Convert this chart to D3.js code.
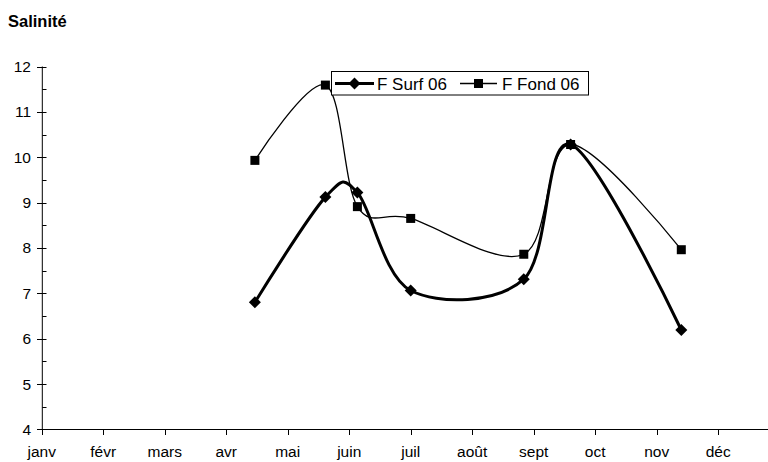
<!DOCTYPE html>
<html>
<head>
<meta charset="utf-8">
<script src="https://cdn.jsdelivr.net/npm/d3@7/dist/d3.min.js"></script>
<style>
  html, body { margin: 0; padding: 0; background: #fff; }
  svg { display: block; font-family: "Liberation Sans", Arial, sans-serif; }
</style>
</head>
<body>
<svg id="chart" width="768" height="462"></svg>
<script>
// ---- data ----
const title = "Salinité";
const months = ["janv","févr","mars","avr","mai","juin","juil","août","sept","oct","nov","déc"];
const dates = ["2006-04-15","2006-05-20","2006-06-05","2006-07-01","2006-08-27","2006-09-19","2006-11-13"];
const surf = [6.80, 9.12, 9.22, 7.06, 7.31, 10.28, 6.19];
const fond = [9.93, 11.59, 8.91, 8.65, 7.86, 10.28, 7.96];
const seriesNames = ["F Surf 06", "F Fond 06"];
const yTicks = [4,5,6,7,8,9,10,11,12];

// ---- helpers ----
function monthPos(s) {
  const [yy, mm, dd] = s.split("-").map(Number);
  const dim = new Date(yy, mm, 0).getDate();
  return (mm - 1) + (dd - 1) / dim;
}

const svg = d3.select("#chart");
const x = d3.scaleLinear().domain([0, 12]).range([41.7, 779.7]);
const y = d3.scaleLinear().domain([4, 12]).range([429.3, 66.5]);

// title
svg.append("text").attr("x", 8).attr("y", 27)
  .attr("font-size", 16.5).attr("font-weight", "bold").attr("fill", "#000")
  .text(title);

// y axis
const yAxis = svg.append("g");
yAxis.append("line").attr("x1", 42.3).attr("x2", 42.3)
  .attr("y1", y(12)).attr("y2", y(4)).attr("stroke", "#000").attr("stroke-width", 1);
const minor = d3.range(4.5, 12, 1);
yAxis.selectAll("line.minor").data(minor).join("line").attr("class", "minor")
  .attr("x1", 42.3).attr("x2", 46.5)
  .attr("y1", d => Math.round(y(d)) + 0.5).attr("y2", d => Math.round(y(d)) + 0.5)
  .attr("stroke", "#000");
yAxis.selectAll("line.major").data(yTicks).join("line").attr("class", "major")
  .attr("x1", 37).attr("x2", 46.5)
  .attr("y1", d => Math.round(y(d)) + 0.5).attr("y2", d => Math.round(y(d)) + 0.5)
  .attr("stroke", "#000");
yAxis.selectAll("text").data(yTicks).join("text")
  .attr("x", 31).attr("y", d => y(d)).attr("dy", "0.36em")
  .attr("text-anchor", "end").attr("font-size", 15.5).attr("fill", "#000")
  .text(d => d);

// x axis
const xAxis = svg.append("g");
xAxis.append("line").attr("x1", 42).attr("x2", 768)
  .attr("y1", Math.round(y(4)) + 0.5).attr("y2", Math.round(y(4)) + 0.5).attr("stroke", "#000");
xAxis.selectAll("line.t").data(months).join("line").attr("class", "t")
  .attr("x1", (d, i) => Math.round(x(i)) + 0.5).attr("x2", (d, i) => Math.round(x(i)) + 0.5)
  .attr("y1", Math.round(y(4))).attr("y2", Math.round(y(4)) + 6).attr("stroke", "#000");
xAxis.selectAll("text").data(months).join("text")
  .attr("x", (d, i) => x(i)).attr("y", 457)
  .attr("text-anchor", "middle").attr("font-size", 15.5).attr("fill", "#000")
  .text(d => d);

// series
const pts = (vals) => dates.map((d, i) => [x(monthPos(d)), y(vals[i])]);
const line = d3.line().curve(d3.curveCardinal.tension(0));
const fondPts = pts(fond), surfPts = pts(surf);

svg.append("path").attr("d", line(fondPts)).attr("fill", "none")
  .attr("stroke", "#000").attr("stroke-width", 1.3);
svg.append("path").attr("d", line(surfPts)).attr("fill", "none")
  .attr("stroke", "#000").attr("stroke-width", 3);

const sq = 9, dia = 6;
svg.append("g").selectAll("rect").data(fondPts).join("rect")
  .attr("x", d => d[0] - sq / 2).attr("y", d => d[1] - sq / 2)
  .attr("width", sq).attr("height", sq).attr("fill", "#000");
const diamondPath = `M0,${-dia}L${dia},0L0,${dia}L${-dia},0Z`;
svg.append("g").selectAll("path").data(surfPts).join("path")
  .attr("d", diamondPath).attr("transform", d => `translate(${d[0]},${d[1]})`)
  .attr("fill", "#000");

// legend
const lg = svg.append("g");
lg.append("rect").attr("x", 331.5).attr("y", 71.5).attr("width", 257).attr("height", 23.5)
  .attr("fill", "#fff").attr("stroke", "#000").attr("stroke-width", 1);
const ly = 83.5;
lg.append("line").attr("x1", 335).attr("x2", 374).attr("y1", ly).attr("y2", ly)
  .attr("stroke", "#000").attr("stroke-width", 3);
lg.append("path").attr("d", diamondPath).attr("transform", `translate(354.5,${ly})`).attr("fill", "#000");
lg.append("text").attr("x", 377).attr("y", ly).attr("dy", "0.36em")
  .attr("font-size", 17).attr("fill", "#000").text(seriesNames[0]);
lg.append("line").attr("x1", 460).attr("x2", 497).attr("y1", ly).attr("y2", ly)
  .attr("stroke", "#000").attr("stroke-width", 1.3);
lg.append("rect").attr("x", 478.5 - sq / 2).attr("y", ly - sq / 2).attr("width", sq).attr("height", sq).attr("fill", "#000");
lg.append("text").attr("x", 502).attr("y", ly).attr("dy", "0.36em")
  .attr("font-size", 17).attr("fill", "#000").text(seriesNames[1]);
</script>
</body>
</html>
